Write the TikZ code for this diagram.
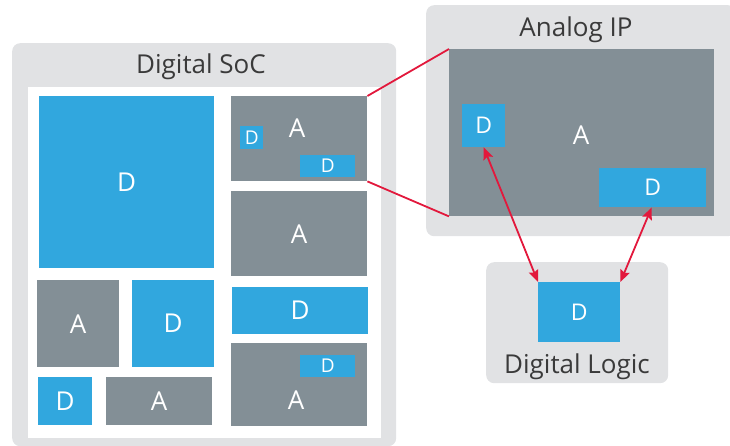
\documentclass[tikz,border=0pt]{standalone}
\usepackage{fontspec}
\setmainfont{Open Sans}
\usepackage{xcolor}
\definecolor{chipBlue}{HTML}{31A7DE}
\definecolor{chipGray}{HTML}{838F96}
\definecolor{frameGray}{HTML}{E1E2E4}
\definecolor{linkRed}{HTML}{E2183C}
\definecolor{titleText}{HTML}{3A3A3A}
\usetikzlibrary{arrows.meta}

\tikzset{
    % Light gray container with a title
    frame/.style={
        anchor=north west,
        fill=frameGray,
        rounded corners=8pt,
        inner sep=0pt,
    },
    frame title/.style={
        anchor=base,
        text=titleText,
        font=\fontsize{26}{26}\selectfont,
        inner sep=0pt,
    },
    % Solid blocks (digital = blue, analog = gray)
    block/.style={
        anchor=north west,
        inner sep=0pt,
        text=white,
        font=\fontsize{26}{26}\selectfont,
    },
    dblock/.style={block, fill=chipBlue},
    ablock/.style={block, fill=chipGray},
    small/.style={font=\fontsize{19}{19}\selectfont},
    medium/.style={font=\fontsize{23}{23}\selectfont},
    block label/.style={text=white, inner sep=0pt, font=\fontsize{26}{26}\selectfont},
    % Zoom lines and links
    zoom line/.style={draw=linkRed, line width=1.8pt},
    link/.style={
        {Stealth[length=12pt, width=10pt, inset=2pt]}-{Stealth[length=12pt, width=10pt, inset=2pt]},
        draw=linkRed,
        line width=1.8pt,
    },
}

\begin{document}
\begin{tikzpicture}[x=1pt, y=-1pt]
    \useasboundingbox (0,0) rectangle (730,446);

    % Digital SoC
    \node (soc) [frame, minimum width=384pt, minimum height=403pt] at (12,43) {};
    \node (socTitle) [frame title] at (201,74) {Digital SoC};
    \node (die) [anchor=north west, fill=white, inner sep=0pt, minimum width=353pt, minimum height=351pt] at (28,87) {};

    \node (bigD) [dblock, minimum width=175pt, minimum height=172pt] at (39,96) {D};
    \node (aTop) [ablock, minimum width=136pt, minimum height=85pt] at (231,96) {};
    \node (aTopLabel) [block label] at (297,128) {A};
    \node (aTopD1) [dblock, small, minimum width=23pt, minimum height=23pt] at (240,126) {D};
    \node (aTopD2) [dblock, small, minimum width=55pt, minimum height=22pt] at (300,155) {D};
    \node (aMid) [ablock, minimum width=136pt, minimum height=85pt] at (231,191) {A};
    \node (dStrip) [dblock, minimum width=136pt, minimum height=47pt] at (232,287) {D};
    \node (aLow) [ablock, minimum width=136pt, minimum height=83pt] at (231,343) {};
    \node (aLowLabel) [block label] at (296,400) {A};
    \node (aLowD) [dblock, small, minimum width=55pt, minimum height=22pt] at (300,355) {D};
    \node (aLeft) [ablock, minimum width=82pt, minimum height=87pt] at (37,280) {A};
    \node (dLeft) [dblock, minimum width=82pt, minimum height=87pt] at (132,280) {D};
    \node (dSmall) [dblock, minimum width=54pt, minimum height=48pt] at (38,377) {D};
    \node (aBottom) [ablock, minimum width=106pt, minimum height=48pt] at (106,377) {A};

    % Analog IP
    \node (ana) [frame, minimum width=310pt, minimum height=231pt] at (426,5) {};
    \node (anaTitle) [frame title] at (576,37) {Analog IP};
    \node (anaCore) [ablock, minimum width=265pt, minimum height=167pt] at (449,49) {};
    \node (anaLabel) [block label] at (581,135) {A};
    \node (anaD1) [dblock, medium, minimum width=43pt, minimum height=43pt] at (462,104) {D};
    \node (anaD2) [dblock, medium, minimum width=107pt, minimum height=39pt] at (599,168) {D};

    % Digital Logic
    \node (logic) [frame, minimum width=182pt, minimum height=121pt] at (486,262) {};
    \node (logicD) [dblock, medium, minimum width=82pt, minimum height=60pt] at (538,282) {D};
    \node (logicTitle) [frame title] at (577,373) {Digital Logic};

    \draw [zoom line] (aTop.north east) -- (anaCore.north west);
    \draw [zoom line] (aTop.south east) -- (anaCore.south west);
    \draw [link] (anaD1.south) -- (logicD.north west);
    \draw [link] ([xshift=-1pt]anaD2.south) -- (logicD.north east);
\end{tikzpicture}
\end{document}
